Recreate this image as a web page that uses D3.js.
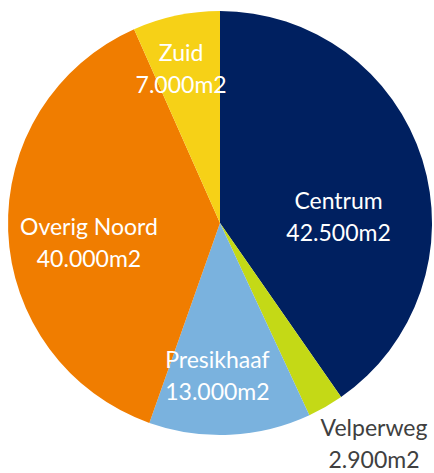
<!DOCTYPE html>
<html>
<head>
<meta charset="utf-8">
<script src="https://cdn.jsdelivr.net/npm/d3@7"></script>
<style>
  body { margin: 0; background: #fff; }
  text { font-family: Lato, "Open Sans", sans-serif; }
</style>
</head>
<body>
<div id="chart"></div>
<script>
// Data, clockwise from 12 o'clock
const regions = ["Centrum", "Velperweg", "Presikhaaf", "Overig Noord", "Zuid"];
const areas = [42500, 2900, 13000, 40000, 7000];
const valueLabels = ["42.500m2", "2.900m2", "13.000m2", "40.000m2", "7.000m2"];
const colors = ["#002060", "#c4d916", "#7ab2de", "#f07d00", "#f6d117"];

// label placement (Excel "best fit" tweaks): radius fraction + angle shift in degrees
const labelLayout = {
    "Centrum":      { k: 0.56, shift: 14.4, fill: "#ffffff" },
    "Velperweg":    { k: 1.27, shift: -5,   fill: "#404040" },
    "Presikhaaf":   { k: 0.72, shift: 3.7,  fill: "#ffffff" },
    "Overig Noord": { k: 0.625, shift: -6.3, fill: "#ffffff" },
    "Zuid":         { k: 0.75, shift: -2.2, fill: "#ffffff" }
};

const width = 434, height = 473;
const cx = 220, cy = 223, radius = 212;

const data = regions.map((r, i) => ({ name: r, value: areas[i], label: valueLabels[i], color: colors[i] }));

const svg = d3.select("#chart")
    .append("svg")
    .attr("width", width)
    .attr("height", height);

const g = svg.append("g").attr("transform", `translate(${cx},${cy})`);

const pie = d3.pie().sort(null).value(d => d.value);
const arc = d3.arc().innerRadius(0).outerRadius(radius);
const arcs = pie(data);

g.selectAll("path.slice")
    .data(arcs)
    .join("path")
    .attr("class", "slice")
    .attr("d", arc)
    .attr("fill", d => d.data.color);

const labels = g.selectAll("text.lbl")
    .data(arcs)
    .join("text")
    .attr("class", "lbl")
    .attr("text-anchor", "middle")
    .attr("font-size", 23)
    .attr("fill", d => labelLayout[d.data.name].fill)
    .attr("transform", d => {
        const lay = labelLayout[d.data.name];
        const a = (d.startAngle + d.endAngle) / 2 + lay.shift * Math.PI / 180;
        const r = radius * lay.k;
        return `translate(${r * Math.sin(a)},${-r * Math.cos(a)})`;
    });

labels.append("tspan").attr("x", 0).attr("y", -8).text(d => d.data.name);
labels.append("tspan").attr("x", 0).attr("y", 24).text(d => d.data.label);
</script>
</body>
</html>
